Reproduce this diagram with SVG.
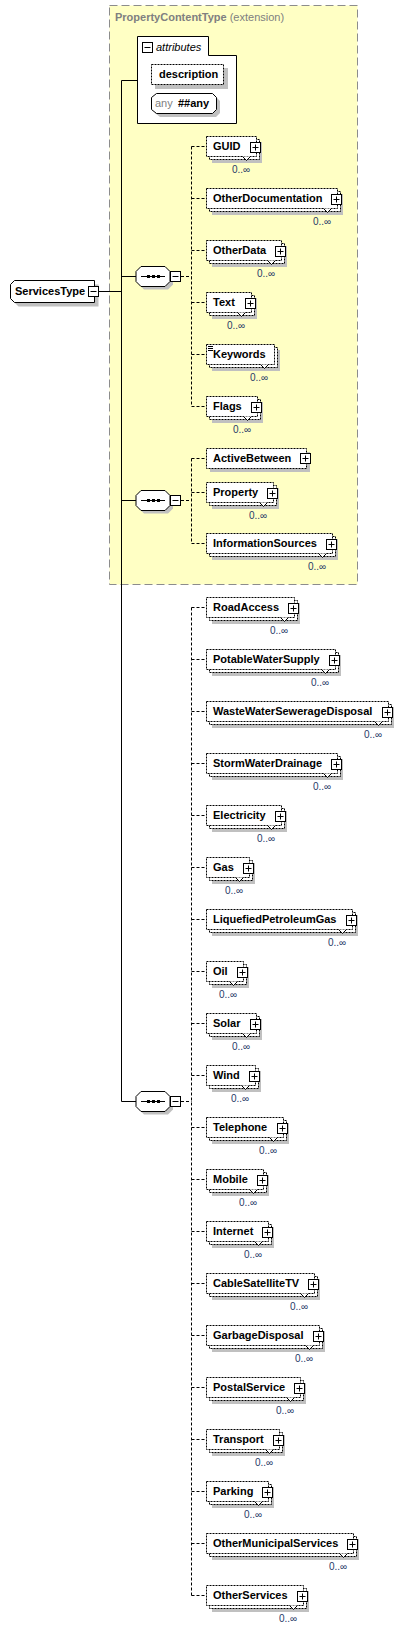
<svg xmlns="http://www.w3.org/2000/svg" width="414" height="1630" viewBox="0 0 414 1630">
<style>
text{font-family:"Liberation Sans",Arial,sans-serif}
.nm{font-size:11px;font-weight:bold;fill:#000}
.mu{font-size:10px;fill:#1f3a68;text-anchor:middle}
.sh{fill:#c0c0c0}
.bx{fill:#fff;stroke:#000;stroke-width:1;stroke-dasharray:2,1}
.sb{fill:#fff;stroke:#000;stroke-width:1}
.pl{fill:none;stroke:#000;stroke-width:1}
.nt{fill:#fff;stroke:#000;stroke-width:1}
.ln{fill:none;stroke:#000;stroke-width:1}
.dl{fill:none;stroke:#000;stroke-width:1;stroke-dasharray:3,2}
</style>
<rect id="extension" x="109.5" y="5.5" width="248" height="579" fill="#ffffc4" stroke="#8c8c8c" stroke-width="1" stroke-dasharray="8,4"/>
<text x="115" y="21" font-size="11" fill="#808080"><tspan font-weight="bold">PropertyContentType</tspan> (extension)</text>

<g id="connectors">
<path class="ln" d="M99 291.5H121.5M121.5 80.5V1101.5M121.5 80.5H137M121.5 276.5H136M121.5 500.5H136M121.5 1101.5H136"/>
<path class="dl" d="M181 276.5H191.5M191.5 146.5V406.5M191.5 146.5H206M191.5 198.5H206M191.5 250.5H206M191.5 302.5H206M191.5 354.5H206M191.5 406.5H206"/>
<path class="dl" d="M181 500.5H191.5M191.5 458.5V543.5M191.5 458.5H206M191.5 492.5H206M191.5 543.5H206"/>
<path class="dl" d="M181 1101.5H191.5M191.5 607.5V1595.5M191.5 607.5H206M191.5 659.5H206M191.5 711.5H206M191.5 763.5H206M191.5 815.5H206M191.5 867.5H206M191.5 919.5H206M191.5 971.5H206M191.5 1023.5H206M191.5 1075.5H206M191.5 1127.5H206M191.5 1179.5H206M191.5 1231.5H206M191.5 1283.5H206M191.5 1335.5H206M191.5 1387.5H206M191.5 1439.5H206M191.5 1491.5H206M191.5 1543.5H206M191.5 1595.5H206"/>
</g>

<g id="ServicesType">
<path class="sh" d="M18.5 284.5H98.5V306.5H18.5L14.5 302.5V288.5Z"/>
<path class="sb" d="M14.5 280.5H94.5V302.5H14.5L10.5 298.5V284.5Z"/>
<text class="nm" x="15" y="295">ServicesType</text>
<rect class="sb" x="88.5" y="286.5" width="10" height="10"/>
<path class="pl" d="M90.5 291.5h6"/>
</g>

<g id="attributes">
<path class="sb" d="M137.5 36.5H208.5V55.5H236.5V123.5H137.5Z"/>
<rect class="sb" x="142.5" y="42.5" width="10" height="10"/>
<path class="pl" d="M144.5 47.5h6"/>
<text x="156" y="51" font-size="11" font-style="italic" fill="#000">attributes</text>
</g>
<g id="attr-description">
<rect class="sh" x="155" y="68" width="73" height="21"/>
<rect class="bx" x="151.5" y="64.5" width="72" height="20"/>
<text class="nm" x="159" y="78">description</text>
</g>
<g id="attr-any">
<path class="sh" d="M160 97H216L220 101V113L216 117H160L155 113V101Z"/>
<path class="sb" d="M156.5 93.5H212.5L216.5 97.5V109.5L212.5 113.5H156.5L151.5 109.5V97.5Z"/>
<text x="155" y="107" font-size="11" fill="#808080">any</text>
<text class="nm" x="178" y="107">##any</text>
</g>

<g id="seq1">
<path class="sh" d="M144 269.5H168L173 274.5V284.5L168 289.5H144L139 284.5V274.5Z"/>
<path class="sb" d="M141 266.5H165L170 271.5V281.5L165 286.5H141L136 281.5V271.5Z"/>
<path class="pl" d="M141 276.5H165"/>
<rect x="147" y="275" width="3" height="3"/><rect x="152" y="275" width="3" height="3"/><rect x="157" y="275" width="3" height="3"/>
<rect class="sb" x="170.5" y="271.5" width="10" height="10"/>
<path class="pl" d="M172.5 276.5h6"/>
</g>
<g id="seq2">
<path class="sh" d="M144 493.5H168L173 498.5V508.5L168 513.5H144L139 508.5V498.5Z"/>
<path class="sb" d="M141 490.5H165L170 495.5V505.5L165 510.5H141L136 505.5V495.5Z"/>
<path class="pl" d="M141 500.5H165"/>
<rect x="147" y="499" width="3" height="3"/><rect x="152" y="499" width="3" height="3"/><rect x="157" y="499" width="3" height="3"/>
<rect class="sb" x="170.5" y="495.5" width="10" height="10"/>
<path class="pl" d="M172.5 500.5h6"/>
</g>
<g id="seq3">
<path class="sh" d="M144 1094.5H168L173 1099.5V1109.5L168 1114.5H144L139 1109.5V1099.5Z"/>
<path class="sb" d="M141 1091.5H165L170 1096.5V1106.5L165 1111.5H141L136 1106.5V1096.5Z"/>
<path class="pl" d="M141 1101.5H165"/>
<rect x="147" y="1100" width="3" height="3"/><rect x="152" y="1100" width="3" height="3"/><rect x="157" y="1100" width="3" height="3"/>
<rect class="sb" x="170.5" y="1096.5" width="10" height="10"/>
<path class="pl" d="M172.5 1101.5h6"/>
</g>

<g id="GUID">
<rect class="sh" x="212" y="142" width="50" height="21"/>
<rect class="bx" x="209.5" y="139.5" width="50" height="20"/>
<rect class="bx" x="206.5" y="136.5" width="50" height="20"/>
<text class="nm" x="213" y="150">GUID</text>
<rect class="sb" x="250.5" y="142.5" width="10" height="10"/>
<path class="pl" d="M252.5 147.5h6M255.5 144.5v6"/>
<path class="nt" d="M242.5 156.5l4 4 4-4"/>
<text class="mu" x="241" y="173">0..∞</text>
</g>
<g id="OtherDocumentation">
<rect class="sh" x="212" y="194" width="131" height="21"/>
<rect class="bx" x="209.5" y="191.5" width="131" height="20"/>
<rect class="bx" x="206.5" y="188.5" width="131" height="20"/>
<text class="nm" x="213" y="202">OtherDocumentation</text>
<rect class="sb" x="331.5" y="194.5" width="10" height="10"/>
<path class="pl" d="M333.5 199.5h6M336.5 196.5v6"/>
<path class="nt" d="M323.5 208.5l4 4 4-4"/>
<text class="mu" x="322" y="225">0..∞</text>
</g>
<g id="OtherData">
<rect class="sh" x="212" y="246" width="75" height="21"/>
<rect class="bx" x="209.5" y="243.5" width="75" height="20"/>
<rect class="bx" x="206.5" y="240.5" width="75" height="20"/>
<text class="nm" x="213" y="254">OtherData</text>
<rect class="sb" x="275.5" y="246.5" width="10" height="10"/>
<path class="pl" d="M277.5 251.5h6M280.5 248.5v6"/>
<path class="nt" d="M267.5 260.5l4 4 4-4"/>
<text class="mu" x="266" y="277">0..∞</text>
</g>
<g id="Text">
<rect class="sh" x="212" y="298" width="45" height="21"/>
<rect class="bx" x="209.5" y="295.5" width="45" height="20"/>
<rect class="bx" x="206.5" y="292.5" width="45" height="20"/>
<text class="nm" x="213" y="306">Text</text>
<rect class="sb" x="245.5" y="298.5" width="10" height="10"/>
<path class="pl" d="M247.5 303.5h6M250.5 300.5v6"/>
<path class="nt" d="M237.5 312.5l4 4 4-4"/>
<text class="mu" x="236" y="329">0..∞</text>
</g>
<g id="Keywords">
<rect class="sh" x="212" y="350" width="68" height="21"/>
<rect class="bx" x="209.5" y="347.5" width="68" height="20"/>
<rect class="bx" x="206.5" y="344.5" width="68" height="20"/>
<path class="pl" d="M208 346.5h5M208 348.5h5M208 350.5h5"/>
<text class="nm" x="213" y="358">Keywords</text>
<path class="nt" d="M260.5 364.5l4 4 4-4"/>
<text class="mu" x="259" y="381">0..∞</text>
</g>
<g id="Flags">
<rect class="sh" x="212" y="402" width="51" height="21"/>
<rect class="bx" x="209.5" y="399.5" width="51" height="20"/>
<rect class="bx" x="206.5" y="396.5" width="51" height="20"/>
<text class="nm" x="213" y="410">Flags</text>
<rect class="sb" x="251.5" y="402.5" width="10" height="10"/>
<path class="pl" d="M253.5 407.5h6M256.5 404.5v6"/>
<path class="nt" d="M243.5 416.5l4 4 4-4"/>
<text class="mu" x="242" y="433">0..∞</text>
</g>

<g id="ActiveBetween">
<rect class="sh" x="210" y="452" width="100" height="20"/>
<rect class="bx" x="206.5" y="448.5" width="100" height="20"/>
<text class="nm" x="213" y="462">ActiveBetween</text>
<rect class="sb" x="300.5" y="453.5" width="10" height="10"/>
<path class="pl" d="M302.5 458.5h6M305.5 455.5v6"/>
</g>
<g id="Property">
<rect class="sh" x="212" y="488" width="67" height="21"/>
<rect class="bx" x="209.5" y="485.5" width="67" height="20"/>
<rect class="bx" x="206.5" y="482.5" width="67" height="20"/>
<text class="nm" x="213" y="496">Property</text>
<rect class="sb" x="267.5" y="488.5" width="10" height="10"/>
<path class="pl" d="M269.5 493.5h6M272.5 490.5v6"/>
<path class="nt" d="M259.5 502.5l4 4 4-4"/>
<text class="mu" x="258" y="519">0..∞</text>
</g>
<g id="InformationSources">
<rect class="sh" x="212" y="539" width="126" height="21"/>
<rect class="bx" x="209.5" y="536.5" width="126" height="20"/>
<rect class="bx" x="206.5" y="533.5" width="126" height="20"/>
<text class="nm" x="213" y="547">InformationSources</text>
<rect class="sb" x="326.5" y="539.5" width="10" height="10"/>
<path class="pl" d="M328.5 544.5h6M331.5 541.5v6"/>
<path class="nt" d="M318.5 553.5l4 4 4-4"/>
<text class="mu" x="317" y="570">0..∞</text>
</g>

<g id="RoadAccess">
<rect class="sh" x="212" y="603" width="88" height="21"/>
<rect class="bx" x="209.5" y="600.5" width="88" height="20"/>
<rect class="bx" x="206.5" y="597.5" width="88" height="20"/>
<text class="nm" x="213" y="611">RoadAccess</text>
<rect class="sb" x="288.5" y="603.5" width="10" height="10"/>
<path class="pl" d="M290.5 608.5h6M293.5 605.5v6"/>
<path class="nt" d="M280.5 617.5l4 4 4-4"/>
<text class="mu" x="279" y="634">0..∞</text>
</g>
<g id="PotableWaterSupply">
<rect class="sh" x="212" y="655" width="129" height="21"/>
<rect class="bx" x="209.5" y="652.5" width="129" height="20"/>
<rect class="bx" x="206.5" y="649.5" width="129" height="20"/>
<text class="nm" x="213" y="663">PotableWaterSupply</text>
<rect class="sb" x="329.5" y="655.5" width="10" height="10"/>
<path class="pl" d="M331.5 660.5h6M334.5 657.5v6"/>
<path class="nt" d="M321.5 669.5l4 4 4-4"/>
<text class="mu" x="320" y="686">0..∞</text>
</g>
<g id="WasteWaterSewerageDisposal">
<rect class="sh" x="212" y="707" width="182" height="21"/>
<rect class="bx" x="209.5" y="704.5" width="182" height="20"/>
<rect class="bx" x="206.5" y="701.5" width="182" height="20"/>
<text class="nm" x="213" y="715">WasteWaterSewerageDisposal</text>
<rect class="sb" x="382.5" y="707.5" width="10" height="10"/>
<path class="pl" d="M384.5 712.5h6M387.5 709.5v6"/>
<path class="nt" d="M374.5 721.5l4 4 4-4"/>
<text class="mu" x="373" y="738">0..∞</text>
</g>
<g id="StormWaterDrainage">
<rect class="sh" x="212" y="759" width="131" height="21"/>
<rect class="bx" x="209.5" y="756.5" width="131" height="20"/>
<rect class="bx" x="206.5" y="753.5" width="131" height="20"/>
<text class="nm" x="213" y="767">StormWaterDrainage</text>
<rect class="sb" x="331.5" y="759.5" width="10" height="10"/>
<path class="pl" d="M333.5 764.5h6M336.5 761.5v6"/>
<path class="nt" d="M323.5 773.5l4 4 4-4"/>
<text class="mu" x="322" y="790">0..∞</text>
</g>
<g id="Electricity">
<rect class="sh" x="212" y="811" width="75" height="21"/>
<rect class="bx" x="209.5" y="808.5" width="75" height="20"/>
<rect class="bx" x="206.5" y="805.5" width="75" height="20"/>
<text class="nm" x="213" y="819">Electricity</text>
<rect class="sb" x="275.5" y="811.5" width="10" height="10"/>
<path class="pl" d="M277.5 816.5h6M280.5 813.5v6"/>
<path class="nt" d="M267.5 825.5l4 4 4-4"/>
<text class="mu" x="266" y="842">0..∞</text>
</g>
<g id="Gas">
<rect class="sh" x="212" y="863" width="43" height="21"/>
<rect class="bx" x="209.5" y="860.5" width="43" height="20"/>
<rect class="bx" x="206.5" y="857.5" width="43" height="20"/>
<text class="nm" x="213" y="871">Gas</text>
<rect class="sb" x="243.5" y="863.5" width="10" height="10"/>
<path class="pl" d="M245.5 868.5h6M248.5 865.5v6"/>
<path class="nt" d="M235.5 877.5l4 4 4-4"/>
<text class="mu" x="234" y="894">0..∞</text>
</g>
<g id="LiquefiedPetroleumGas">
<rect class="sh" x="212" y="915" width="146" height="21"/>
<rect class="bx" x="209.5" y="912.5" width="146" height="20"/>
<rect class="bx" x="206.5" y="909.5" width="146" height="20"/>
<text class="nm" x="213" y="923">LiquefiedPetroleumGas</text>
<rect class="sb" x="346.5" y="915.5" width="10" height="10"/>
<path class="pl" d="M348.5 920.5h6M351.5 917.5v6"/>
<path class="nt" d="M338.5 929.5l4 4 4-4"/>
<text class="mu" x="337" y="946">0..∞</text>
</g>
<g id="Oil">
<rect class="sh" x="212" y="967" width="37" height="21"/>
<rect class="bx" x="209.5" y="964.5" width="37" height="20"/>
<rect class="bx" x="206.5" y="961.5" width="37" height="20"/>
<text class="nm" x="213" y="975">Oil</text>
<rect class="sb" x="237.5" y="967.5" width="10" height="10"/>
<path class="pl" d="M239.5 972.5h6M242.5 969.5v6"/>
<path class="nt" d="M229.5 981.5l4 4 4-4"/>
<text class="mu" x="228" y="998">0..∞</text>
</g>
<g id="Solar">
<rect class="sh" x="212" y="1019" width="50" height="21"/>
<rect class="bx" x="209.5" y="1016.5" width="50" height="20"/>
<rect class="bx" x="206.5" y="1013.5" width="50" height="20"/>
<text class="nm" x="213" y="1027">Solar</text>
<rect class="sb" x="250.5" y="1019.5" width="10" height="10"/>
<path class="pl" d="M252.5 1024.5h6M255.5 1021.5v6"/>
<path class="nt" d="M242.5 1033.5l4 4 4-4"/>
<text class="mu" x="241" y="1050">0..∞</text>
</g>
<g id="Wind">
<rect class="sh" x="212" y="1071" width="49" height="21"/>
<rect class="bx" x="209.5" y="1068.5" width="49" height="20"/>
<rect class="bx" x="206.5" y="1065.5" width="49" height="20"/>
<text class="nm" x="213" y="1079">Wind</text>
<rect class="sb" x="249.5" y="1071.5" width="10" height="10"/>
<path class="pl" d="M251.5 1076.5h6M254.5 1073.5v6"/>
<path class="nt" d="M241.5 1085.5l4 4 4-4"/>
<text class="mu" x="240" y="1102">0..∞</text>
</g>
<g id="Telephone">
<rect class="sh" x="212" y="1123" width="77" height="21"/>
<rect class="bx" x="209.5" y="1120.5" width="77" height="20"/>
<rect class="bx" x="206.5" y="1117.5" width="77" height="20"/>
<text class="nm" x="213" y="1131">Telephone</text>
<rect class="sb" x="277.5" y="1123.5" width="10" height="10"/>
<path class="pl" d="M279.5 1128.5h6M282.5 1125.5v6"/>
<path class="nt" d="M269.5 1137.5l4 4 4-4"/>
<text class="mu" x="268" y="1154">0..∞</text>
</g>
<g id="Mobile">
<rect class="sh" x="212" y="1175" width="57" height="21"/>
<rect class="bx" x="209.5" y="1172.5" width="57" height="20"/>
<rect class="bx" x="206.5" y="1169.5" width="57" height="20"/>
<text class="nm" x="213" y="1183">Mobile</text>
<rect class="sb" x="257.5" y="1175.5" width="10" height="10"/>
<path class="pl" d="M259.5 1180.5h6M262.5 1177.5v6"/>
<path class="nt" d="M249.5 1189.5l4 4 4-4"/>
<text class="mu" x="248" y="1206">0..∞</text>
</g>
<g id="Internet">
<rect class="sh" x="212" y="1227" width="62" height="21"/>
<rect class="bx" x="209.5" y="1224.5" width="62" height="20"/>
<rect class="bx" x="206.5" y="1221.5" width="62" height="20"/>
<text class="nm" x="213" y="1235">Internet</text>
<rect class="sb" x="262.5" y="1227.5" width="10" height="10"/>
<path class="pl" d="M264.5 1232.5h6M267.5 1229.5v6"/>
<path class="nt" d="M254.5 1241.5l4 4 4-4"/>
<text class="mu" x="253" y="1258">0..∞</text>
</g>
<g id="CableSatelliteTV">
<rect class="sh" x="212" y="1279" width="108" height="21"/>
<rect class="bx" x="209.5" y="1276.5" width="108" height="20"/>
<rect class="bx" x="206.5" y="1273.5" width="108" height="20"/>
<text class="nm" x="213" y="1287">CableSatelliteTV</text>
<rect class="sb" x="308.5" y="1279.5" width="10" height="10"/>
<path class="pl" d="M310.5 1284.5h6M313.5 1281.5v6"/>
<path class="nt" d="M300.5 1293.5l4 4 4-4"/>
<text class="mu" x="299" y="1310">0..∞</text>
</g>
<g id="GarbageDisposal">
<rect class="sh" x="212" y="1331" width="113" height="21"/>
<rect class="bx" x="209.5" y="1328.5" width="113" height="20"/>
<rect class="bx" x="206.5" y="1325.5" width="113" height="20"/>
<text class="nm" x="213" y="1339">GarbageDisposal</text>
<rect class="sb" x="313.5" y="1331.5" width="10" height="10"/>
<path class="pl" d="M315.5 1336.5h6M318.5 1333.5v6"/>
<path class="nt" d="M305.5 1345.5l4 4 4-4"/>
<text class="mu" x="304" y="1362">0..∞</text>
</g>
<g id="PostalService">
<rect class="sh" x="212" y="1383" width="94" height="21"/>
<rect class="bx" x="209.5" y="1380.5" width="94" height="20"/>
<rect class="bx" x="206.5" y="1377.5" width="94" height="20"/>
<text class="nm" x="213" y="1391">PostalService</text>
<rect class="sb" x="294.5" y="1383.5" width="10" height="10"/>
<path class="pl" d="M296.5 1388.5h6M299.5 1385.5v6"/>
<path class="nt" d="M286.5 1397.5l4 4 4-4"/>
<text class="mu" x="285" y="1414">0..∞</text>
</g>
<g id="Transport">
<rect class="sh" x="212" y="1435" width="73" height="21"/>
<rect class="bx" x="209.5" y="1432.5" width="73" height="20"/>
<rect class="bx" x="206.5" y="1429.5" width="73" height="20"/>
<text class="nm" x="213" y="1443">Transport</text>
<rect class="sb" x="273.5" y="1435.5" width="10" height="10"/>
<path class="pl" d="M275.5 1440.5h6M278.5 1437.5v6"/>
<path class="nt" d="M265.5 1449.5l4 4 4-4"/>
<text class="mu" x="264" y="1466">0..∞</text>
</g>
<g id="Parking">
<rect class="sh" x="212" y="1487" width="62" height="21"/>
<rect class="bx" x="209.5" y="1484.5" width="62" height="20"/>
<rect class="bx" x="206.5" y="1481.5" width="62" height="20"/>
<text class="nm" x="213" y="1495">Parking</text>
<rect class="sb" x="262.5" y="1487.5" width="10" height="10"/>
<path class="pl" d="M264.5 1492.5h6M267.5 1489.5v6"/>
<path class="nt" d="M254.5 1501.5l4 4 4-4"/>
<text class="mu" x="253" y="1518">0..∞</text>
</g>
<g id="OtherMunicipalServices">
<rect class="sh" x="212" y="1539" width="147" height="21"/>
<rect class="bx" x="209.5" y="1536.5" width="147" height="20"/>
<rect class="bx" x="206.5" y="1533.5" width="147" height="20"/>
<text class="nm" x="213" y="1547">OtherMunicipalServices</text>
<rect class="sb" x="347.5" y="1539.5" width="10" height="10"/>
<path class="pl" d="M349.5 1544.5h6M352.5 1541.5v6"/>
<path class="nt" d="M339.5 1553.5l4 4 4-4"/>
<text class="mu" x="338" y="1570">0..∞</text>
</g>
<g id="OtherServices">
<rect class="sh" x="212" y="1591" width="97" height="21"/>
<rect class="bx" x="209.5" y="1588.5" width="97" height="20"/>
<rect class="bx" x="206.5" y="1585.5" width="97" height="20"/>
<text class="nm" x="213" y="1599">OtherServices</text>
<rect class="sb" x="297.5" y="1591.5" width="10" height="10"/>
<path class="pl" d="M299.5 1596.5h6M302.5 1593.5v6"/>
<path class="nt" d="M289.5 1605.5l4 4 4-4"/>
<text class="mu" x="288" y="1622">0..∞</text>
</g>
</svg>
